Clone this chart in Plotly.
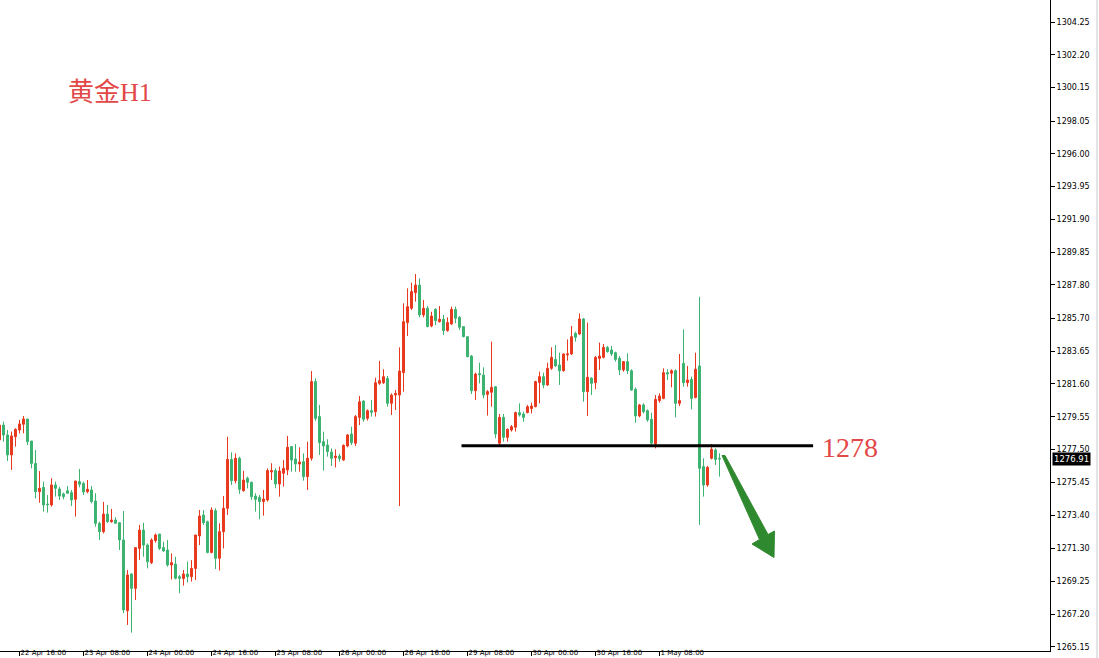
import plotly.graph_objects as go

# ---------------- data ----------------
opens = [1278.10, 1279.03, 1278.41, 1277.16, 1278.30, 1278.72, 1279.08, 1279.41, 1278.03, 1276.63,
         1274.86, 1275.13, 1274.09, 1274.03, 1275.28, 1275.03, 1274.72, 1274.92, 1274.80, 1274.38,
         1275.49, 1275.38, 1274.86, 1274.97, 1274.28, 1272.88, 1272.36, 1273.46, 1272.98, 1273.09,
         1272.92, 1271.84, 1267.41, 1269.71, 1268.81, 1271.31, 1272.46, 1271.52, 1270.42, 1271.80,
         1272.21, 1271.36, 1271.21, 1270.27, 1270.33, 1269.54, 1269.42, 1269.71, 1269.54, 1270.06,
         1272.09, 1273.40, 1272.98, 1271.06, 1273.67, 1270.69, 1272.36, 1273.82, 1276.88, 1275.55,
         1276.95, 1274.92, 1275.70, 1275.45, 1274.59, 1274.51, 1274.24, 1274.34, 1276.09, 1276.18,
         1275.34, 1276.01, 1276.22, 1277.68, 1276.91, 1276.59, 1276.74, 1275.80, 1276.95, 1281.75,
         1279.56, 1277.99, 1277.78, 1277.34, 1276.99, 1277.09, 1276.84, 1277.72, 1278.47, 1277.89,
         1279.51, 1280.53, 1279.45, 1279.93, 1279.87, 1281.64, 1281.68, 1281.95, 1280.39, 1280.91,
         1280.91, 1282.31, 1285.44, 1286.34, 1287.31, 1287.79, 1285.92, 1286.34, 1285.23, 1286.27,
         1285.50, 1285.65, 1284.94, 1285.36, 1286.27, 1285.77, 1285.19, 1284.56, 1283.35, 1281.18,
         1282.25, 1282.16, 1280.95, 1281.08, 1281.43, 1277.89, 1279.51, 1278.26, 1278.72, 1278.89,
         1279.81, 1279.72, 1279.81, 1280.06, 1280.18, 1281.70, 1282.06, 1281.54, 1282.58, 1283.14,
         1282.79, 1282.43, 1283.42, 1283.48, 1284.77, 1284.73, 1285.67, 1281.12, 1281.96, 1281.68,
         1283.20, 1283.27, 1283.89, 1283.73, 1283.56, 1283.21, 1282.48, 1283.00, 1282.43, 1281.27,
         1279.60, 1280.29, 1279.93, 1279.39, 1277.85, 1280.56, 1280.70, 1282.31, 1282.27, 1282.43,
         1280.39, 1282.89, 1281.68, 1281.89, 1280.76, 1282.73, 1276.43, 1275.28, 1276.95, 1277.47,
         1276.95]
highs = [1279.14, 1279.24, 1278.72, 1278.62, 1278.83, 1279.35, 1279.60, 1279.41, 1278.03, 1277.47,
         1276.15, 1275.49, 1274.65, 1275.70, 1275.49, 1275.17, 1274.80, 1275.22, 1274.97, 1275.53,
         1276.28, 1275.49, 1275.59, 1275.22, 1274.76, 1272.98, 1274.22, 1274.03, 1273.78, 1273.26,
         1272.92, 1273.65, 1269.96, 1269.75, 1271.36, 1272.78, 1272.92, 1271.62, 1271.94, 1272.25,
         1272.21, 1271.73, 1271.84, 1271.00, 1270.79, 1269.65, 1269.96, 1270.48, 1270.58, 1272.15,
         1273.71, 1273.71, 1273.05, 1273.88, 1273.82, 1272.88, 1274.59, 1278.30, 1277.32, 1277.26,
         1277.05, 1276.17, 1275.80, 1275.49, 1274.76, 1274.65, 1274.97, 1276.32, 1276.64, 1276.32,
         1276.43, 1276.84, 1278.35, 1277.72, 1277.84, 1277.64, 1277.26, 1277.99, 1282.41, 1281.95,
         1280.29, 1278.62, 1278.14, 1277.57, 1277.51, 1277.22, 1277.82, 1278.47, 1278.93, 1279.66,
         1280.85, 1280.58, 1280.01, 1280.60, 1281.99, 1283.04, 1282.52, 1282.10, 1281.01, 1281.22,
         1283.89, 1286.65, 1287.59, 1287.94, 1288.48, 1288.21, 1286.86, 1286.48, 1286.12, 1286.34,
         1286.48, 1285.92, 1285.77, 1286.44, 1286.44, 1285.85, 1285.23, 1284.56, 1283.41, 1282.31,
         1282.93, 1282.64, 1281.22, 1284.25, 1281.47, 1279.72, 1279.72, 1278.82, 1279.03, 1279.87,
         1280.39, 1279.87, 1280.29, 1280.43, 1281.80, 1282.37, 1282.31, 1282.93, 1283.89, 1284.04,
         1283.56, 1283.52, 1284.39, 1285.23, 1284.87, 1286.02, 1285.73, 1285.44, 1282.02, 1283.35,
         1284.19, 1284.10, 1283.98, 1283.98, 1283.62, 1283.35, 1283.04, 1283.52, 1282.52, 1281.39,
         1280.35, 1280.39, 1280.01, 1279.80, 1280.91, 1281.02, 1282.58, 1282.52, 1282.52, 1282.52,
         1283.48, 1285.02, 1282.73, 1282.06, 1283.56, 1287.06, 1276.95, 1276.47, 1277.84, 1277.57,
         1277.26]
lows = [1277.99, 1277.99, 1276.78, 1276.22, 1277.68, 1278.51, 1278.51, 1277.78, 1276.32, 1274.44,
        1274.17, 1273.61, 1273.55, 1273.92, 1274.55, 1274.34, 1274.38, 1274.72, 1273.96, 1273.30,
        1275.13, 1274.65, 1274.76, 1274.13, 1272.67, 1271.84, 1272.25, 1272.92, 1272.92, 1272.84,
        1271.21, 1267.25, 1266.52, 1266.04, 1268.08, 1270.58, 1270.79, 1270.06, 1270.33, 1271.67,
        1271.21, 1271.10, 1270.17, 1269.37, 1269.37, 1268.50, 1268.98, 1269.17, 1269.23, 1269.33,
        1271.52, 1272.78, 1271.00, 1271.00, 1270.02, 1269.92, 1271.31, 1273.40, 1275.28, 1275.38,
        1274.72, 1274.86, 1275.07, 1274.34, 1273.61, 1273.13, 1273.36, 1274.24, 1275.59, 1275.07,
        1274.55, 1275.18, 1275.90, 1276.11, 1276.11, 1276.11, 1275.55, 1274.97, 1276.80, 1279.30,
        1277.16, 1276.18, 1277.05, 1276.47, 1276.38, 1276.74, 1276.80, 1277.64, 1277.78, 1277.72,
        1279.03, 1279.24, 1279.31, 1279.56, 1279.56, 1281.54, 1281.60, 1280.18, 1279.66, 1279.97,
        1273.96, 1281.12, 1284.60, 1286.23, 1286.75, 1285.77, 1285.77, 1285.15, 1285.15, 1285.29,
        1285.44, 1284.67, 1284.87, 1285.29, 1285.40, 1284.98, 1284.52, 1283.27, 1280.97, 1280.60,
        1281.64, 1280.70, 1279.62, 1280.18, 1278.20, 1277.78, 1277.99, 1277.99, 1278.62, 1278.62,
        1279.56, 1279.24, 1279.76, 1279.76, 1280.14, 1280.39, 1281.33, 1281.48, 1282.48, 1282.68,
        1281.54, 1282.37, 1283.06, 1283.42, 1284.25, 1284.67, 1280.49, 1279.60, 1280.91, 1281.27,
        1282.48, 1283.20, 1283.56, 1283.35, 1283.00, 1282.16, 1282.37, 1282.22, 1281.18, 1279.18,
        1279.51, 1279.76, 1279.24, 1277.85, 1277.57, 1280.43, 1280.64, 1281.85, 1281.39, 1279.51,
        1280.22, 1281.43, 1281.43, 1280.01, 1280.70, 1272.78, 1274.55, 1275.17, 1276.88, 1276.53,
        1275.80]
closes = [1279.03, 1278.41, 1277.16, 1278.35, 1278.76, 1279.10, 1279.41, 1277.99, 1276.63, 1274.86,
          1275.07, 1274.03, 1274.05, 1275.28, 1275.07, 1274.59, 1274.55, 1274.76, 1274.34, 1275.53,
          1275.32, 1274.84, 1275.01, 1274.24, 1272.88, 1272.36, 1273.46, 1272.98, 1273.09, 1272.88,
          1271.84, 1267.46, 1269.65, 1268.81, 1271.36, 1272.46, 1271.52, 1270.48, 1271.84, 1272.15,
          1271.31, 1271.15, 1270.27, 1270.42, 1269.44, 1269.44, 1269.71, 1269.54, 1270.06, 1272.15,
          1273.34, 1272.92, 1271.06, 1273.71, 1270.69, 1272.36, 1273.82, 1276.88, 1275.55, 1276.95,
          1275.01, 1275.59, 1275.45, 1274.55, 1274.38, 1274.24, 1274.40, 1276.18, 1276.18, 1275.34,
          1276.15, 1276.32, 1277.64, 1276.84, 1276.59, 1276.72, 1275.80, 1276.95, 1281.75, 1279.45,
          1277.93, 1277.72, 1277.37, 1276.95, 1277.09, 1276.93, 1277.76, 1278.41, 1277.93, 1279.56,
          1280.49, 1279.39, 1279.93, 1279.83, 1281.68, 1281.81, 1282.06, 1280.39, 1280.91, 1281.01,
          1282.41, 1285.50, 1286.44, 1287.38, 1287.79, 1285.92, 1286.34, 1285.19, 1285.85, 1285.56,
          1285.65, 1284.94, 1285.44, 1286.27, 1285.71, 1285.15, 1284.56, 1283.31, 1281.18, 1282.22,
          1282.18, 1280.91, 1281.12, 1281.39, 1278.47, 1279.51, 1278.26, 1278.76, 1278.93, 1279.81,
          1279.66, 1279.51, 1280.18, 1280.22, 1281.75, 1282.06, 1281.54, 1282.58, 1283.27, 1282.73,
          1282.43, 1283.48, 1283.48, 1284.56, 1284.52, 1285.67, 1281.12, 1282.02, 1281.64, 1283.27,
          1283.35, 1283.89, 1283.62, 1283.48, 1283.14, 1282.48, 1283.00, 1282.43, 1281.22, 1279.60,
          1280.29, 1279.87, 1279.35, 1277.89, 1280.64, 1280.85, 1282.31, 1282.23, 1282.43, 1280.39,
          1280.56, 1281.68, 1281.85, 1280.70, 1282.52, 1276.32, 1275.28, 1276.38, 1277.51, 1276.88,
          1276.91]

bar_index = list(range(len(closes)))

x_tick_bars = [5, 21, 37, 53, 69, 85, 101, 117, 133, 149, 165]
x_tick_labels = ["22 Apr 16:00", "23 Apr 08:00", "24 Apr 00:00", "24 Apr 16:00",
                 "25 Apr 08:00", "26 Apr 00:00", "26 Apr 16:00", "29 Apr 08:00",
                 "30 Apr 00:00", "30 Apr 16:00", "1 May 08:00"]

y_tick_values = [1265.15, 1267.20, 1269.25, 1271.30, 1273.40, 1275.45, 1277.50, 1279.55,
                 1281.60, 1283.65, 1285.70, 1287.80, 1289.85, 1291.90, 1293.95, 1296.00,
                 1298.05, 1300.15, 1302.20, 1304.25]

support_level = 1277.74
support_from_bar, support_to_bar = 115.5, 203.4
last_price = 1276.91

# ---------------- styling ----------------
RED = "#e8391e"
GREEN = "#3cb371"
ARROW = "#2f8a2f"
TEXT_RED = "#e24848"
W, H = 1099, 658
PLOT_W, PLOT_H = 1050, 651

fig = go.Figure()
fig.add_trace(go.Candlestick(
    x=bar_index, open=opens, high=highs, low=lows, close=closes,
    increasing=dict(line=dict(color=RED, width=1), fillcolor=RED),
    decreasing=dict(line=dict(color=GREEN, width=1), fillcolor=GREEN),
    whiskerwidth=0, hoverinfo="skip", showlegend=False,
))

# support line at 1278
fig.add_shape(type="line", xref="x", yref="y",
              x0=support_from_bar, x1=support_to_bar, y0=support_level, y1=support_level,
              line=dict(color="black", width=3))

# green arrow (drawing, in plot-area pixel space -> paper)
def px(xp, yp):
    return xp / PLOT_W, 1 - yp / PLOT_H

arrow_px = [(722, 455.5), (759.5, 539.5), (752, 544), (774, 557.5), (774.5, 531), (768, 534.5), (725, 455.5)]
path = "M " + " L ".join(f"{px(a, b)[0]:.5f},{px(a, b)[1]:.5f}" for a, b in arrow_px) + " Z"
fig.add_shape(type="path", xref="paper", yref="paper", path=path,
              fillcolor=ARROW, line=dict(color=ARROW, width=1))

# right window border
fig.add_shape(type="line", xref="paper", yref="paper", x0=1097 / PLOT_W, x1=1097 / PLOT_W,
              y0=-7 / PLOT_H, y1=1, line=dict(color="#c8c8c8", width=1))

fig.add_annotation(text="黄金H1", xref="paper", yref="paper", x=px(66, 92)[0], y=px(66, 92)[1],
                   xanchor="left", yanchor="middle", showarrow=False,
                   font=dict(family="Liberation Serif, Noto Sans CJK SC", size=26, color=TEXT_RED))
fig.add_annotation(text="1278", xref="paper", yref="paper", x=px(820, 447)[0], y=px(820, 447)[1],
                   xanchor="left", yanchor="middle", showarrow=False,
                   font=dict(family="Liberation Serif", size=28, color=TEXT_RED))
fig.add_annotation(text=f"{last_price:.2f}", xref="paper", yref="y", x=1, y=last_price,
                   xanchor="left", yanchor="middle", xshift=2, showarrow=False,
                   bgcolor="black", borderpad=1,
                   font=dict(family="DejaVu Sans", size=8.5, color="white"))

fig.update_layout(
    width=W, height=H,
    margin=dict(l=0, r=W - PLOT_W, t=0, b=H - PLOT_H),
    paper_bgcolor="white", plot_bgcolor="white",
    font=dict(family="DejaVu Sans", size=8, color="black"),
    xaxis=dict(range=[0.125, 262.625], showgrid=False, zeroline=False, automargin=False,
               rangeslider=dict(visible=False),
               showline=True, linecolor="black", linewidth=1,
               ticks="outside", ticklen=4, tickcolor="black",
               tickvals=x_tick_bars, ticktext=x_tick_labels,
               tickfont=dict(family="DejaVu Sans", size=7, color="black"),
               ticklabelposition="outside right", ticklabelstandoff=-5),
    yaxis=dict(range=[1264.89, 1305.63], side="right", showgrid=False, zeroline=False, automargin=False,
               showline=True, linecolor="black", linewidth=1,
               ticks="outside", ticklen=4, tickcolor="black",
               tickvals=y_tick_values, tickformat=".2f"),
)

fig.write_html("out.html", config={"displayModeBar": False},
               post_script="document.body.style.margin='0';")
